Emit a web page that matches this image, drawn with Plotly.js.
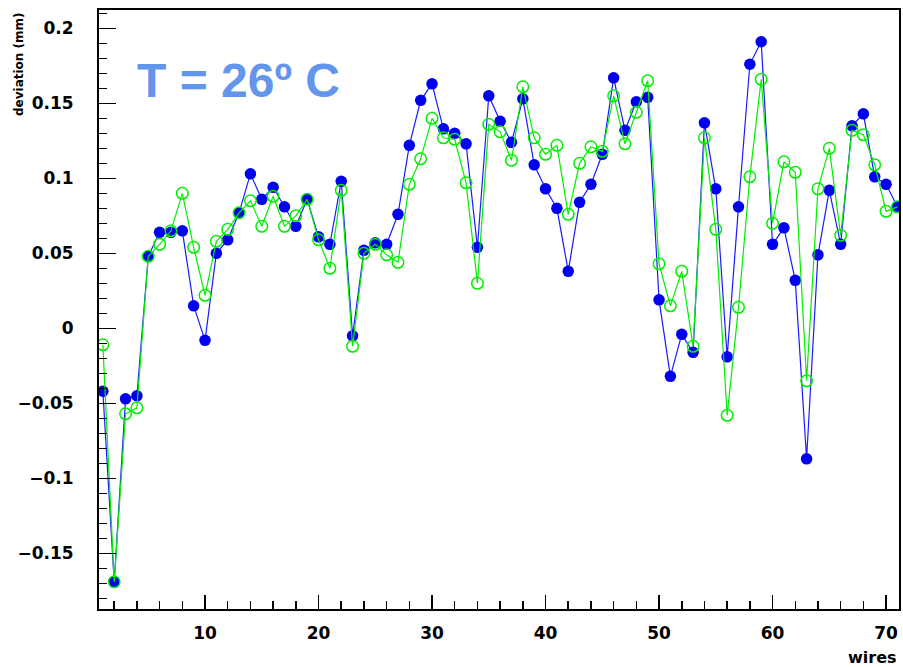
<!DOCTYPE html>
<html>
<head>
<meta charset="utf-8">
<script src="https://cdn.plot.ly/plotly-3.0.1.min.js"></script>
<style>html,body{margin:0;padding:0;background:#fff;}#chart{width:903px;height:667px;}</style>
</head>
<body>
<div id="chart"></div>
<script>
// wire numbers
var wires = [1,2,3,4,5,6,7,8,9,10,11,12,13,14,15,16,17,18,19,20,
  21,22,23,24,25,26,27,28,29,30,31,32,33,34,35,36,37,38,39,40,
  41,42,43,44,45,46,47,48,49,50,51,52,53,54,55,56,57,58,59,60,
  61,62,63,64,65,66,67,68,69,70,71];

// blue filled markers (deviation, mm)
var devBlue = [-0.042,-0.169,-0.047,-0.045,0.048,0.064,0.064,0.065,0.015,-0.008,
  0.050,0.059,0.077,0.103,0.086,0.094,0.081,0.068,0.086,0.061,
  0.056,0.098,-0.005,0.052,0.057,0.056,0.076,0.122,0.152,0.163,
  0.133,0.130,0.123,0.054,0.155,0.138,0.124,0.153,0.109,0.093,
  0.080,0.038,0.084,0.096,0.116,0.167,0.132,0.151,0.154,0.019,
  -0.032,-0.004,-0.016,0.137,0.093,-0.019,0.081,0.176,0.191,0.056,
  0.067,0.032,-0.087,0.049,0.092,0.056,0.135,0.143,0.101,0.096,0.081];

// green open markers (deviation, mm)
var devGreen = [-0.011,-0.169,-0.057,-0.053,0.048,0.056,0.065,0.090,0.054,0.022,
  0.058,0.066,0.077,0.085,0.068,0.088,0.068,0.075,0.086,0.059,
  0.040,0.092,-0.012,0.050,0.056,0.049,0.044,0.096,0.113,0.140,
  0.127,0.126,0.097,0.030,0.136,0.131,0.112,0.161,0.127,0.116,
  0.122,0.076,0.110,0.121,0.118,0.155,0.123,0.144,0.165,0.043,
  0.015,0.038,-0.012,0.127,0.066,-0.058,0.014,0.101,0.166,0.070,
  0.111,0.104,-0.035,0.093,0.120,0.062,0.132,0.129,0.109,0.078,0.081];

var yTickVals = [-0.15,-0.1,-0.05,0,0.05,0.1,0.15,0.2];
var yTickText = ['\u22120.15','\u22120.1','\u22120.05','0','0.05','0.1','0.15','0.2'];
var xTickVals = [10,20,30,40,50,60,70];
var xTickText = ['10','20','30','40','50','60','70'];

var traces = [
  {
    x: wires, y: devBlue, type: 'scatter', mode: 'lines+markers',
    line: {color: '#1a1aff', width: 1.2},
    marker: {symbol: 'circle', size: 11.5, color: '#0000f0'},
    cliponaxis: true
  },
  {
    x: wires, y: devGreen, type: 'scatter', mode: 'lines+markers',
    line: {color: '#00ee00', width: 1.2},
    marker: {symbol: 'circle-open', size: 11.5, color: '#00ee00', line: {width: 1.5, color: '#00ee00'}},
    cliponaxis: true
  }
];

var tickFont = {family: 'DejaVu Sans', size: 17, color: '#000', weight: 'bold'};

var layout = {
  width: 903, height: 667,
  margin: {l: 99, r: 4, t: 10, b: 58, pad: 0},
  paper_bgcolor: '#fff', plot_bgcolor: '#fff',
  showlegend: false,
  xaxis: {
    range: [0.66, 71.14],
    tickmode: 'array', tickvals: xTickVals, ticktext: xTickText,
    ticks: 'inside', ticklen: 14, tickwidth: 1.5, tickcolor: '#000',
    minor: {dtick: 2, tick0: 0, ticks: 'inside', ticklen: 8, tickwidth: 1.5, tickcolor: '#000'},
    showline: true, linecolor: '#000', linewidth: 2, mirror: true,
    showgrid: false, zeroline: false,
    tickfont: tickFont, ticklabelstandoff: 8
  },
  yaxis: {
    range: [-0.1871, 0.2122],
    tickmode: 'array', tickvals: yTickVals, ticktext: yTickText,
    ticks: 'inside', ticklen: 17, tickwidth: 1.5, tickcolor: '#000',
    minor: {dtick: 0.01, tick0: 0, ticks: 'inside', ticklen: 8, tickwidth: 1.5, tickcolor: '#000'},
    showline: true, linecolor: '#000', linewidth: 2, mirror: true,
    showgrid: false, zeroline: false,
    tickfont: tickFont, ticklabelstandoff: 20
  },
  annotations: [
    {
      text: 'T = 26º C', xref: 'paper', yref: 'paper',
      x: 0.045, y: 0.882, xanchor: 'left', yanchor: 'middle', showarrow: false,
      font: {family: 'Liberation Sans', size: 48, color: '#6495ed', weight: 'bold'}
    },
    {
      text: 'deviation (mm)', xref: 'paper', yref: 'paper',
      x: -0.1, y: 1.0, xanchor: 'center', yanchor: 'top', showarrow: false,
      textangle: -90,
      font: {family: 'DejaVu Sans', size: 12, color: '#000', weight: 'bold'}
    },
    {
      text: 'wires', xref: 'paper', yref: 'paper',
      x: 1.0, y: -0.062, xanchor: 'right', yanchor: 'top', showarrow: false,
      font: {family: 'DejaVu Sans', size: 16, color: '#000', weight: 'bold'}
    }
  ]
};

Plotly.newPlot('chart', traces, layout, {staticPlot: true, displayModeBar: false});
</script>
</body>
</html>
